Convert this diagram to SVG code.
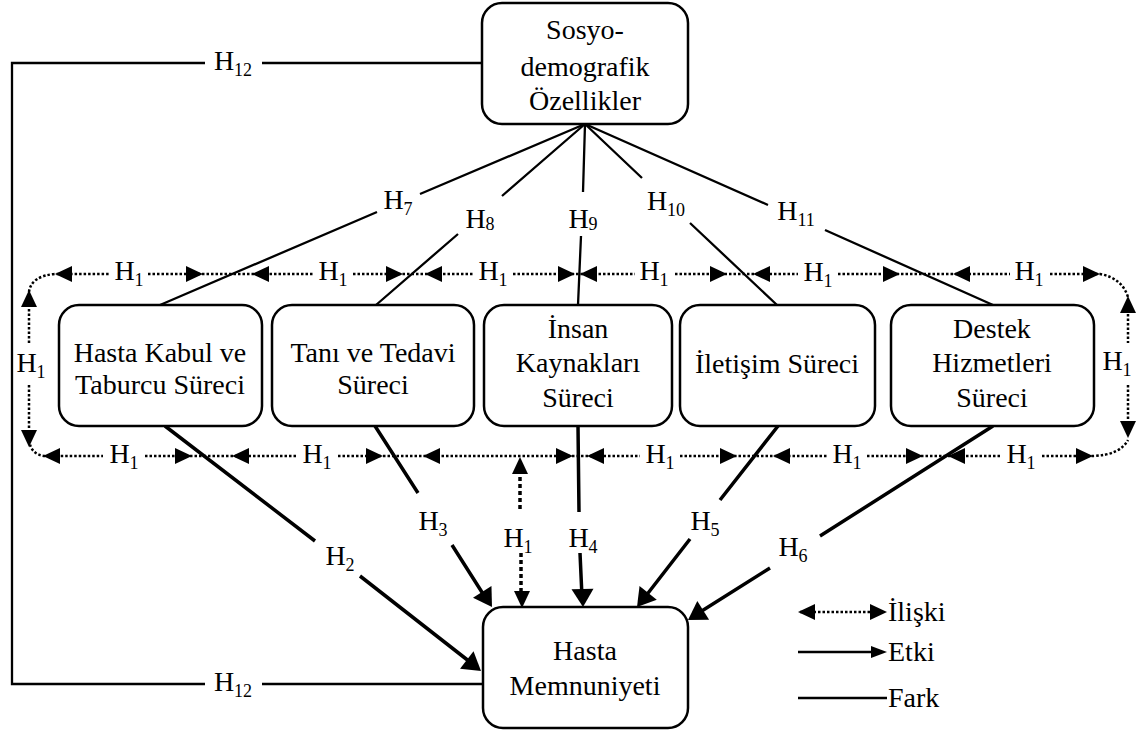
<svg xmlns="http://www.w3.org/2000/svg" xmlns:xlink="http://www.w3.org/1999/xlink" width="1144" height="733" viewBox="0 0 1144 733">
<style>
.box{fill:#fff;stroke:#000;stroke-width:2.5}
.t{font-family:"Liberation Serif","Times New Roman",serif;font-size:28px;fill:#000;text-anchor:middle}
.lg{font-family:"Liberation Serif","Times New Roman",serif;font-size:28px;fill:#000}
.h{font-family:"Liberation Serif","Times New Roman",serif;font-size:28px;fill:#000;text-anchor:middle}
.s{font-size:18px}
.thin{fill:none;stroke:#000;stroke-width:2.3}
.thick{fill:none;stroke:#000;stroke-width:3.5}
.dot{fill:none;stroke:#000;stroke-width:2.5;stroke-dasharray:2.5 2}
.dotb{fill:none;stroke:#000;stroke-width:3.5;stroke-dasharray:4 3}
</style>
<defs>
<path id="ad" d="M0,0 L-17,-8 L-17,8z"/>
<path id="at" d="M0,0 L-18,-11 L-18,11z"/>
<path id="al" d="M0,0 L-16,-6 L-16,6z"/>
</defs>

<g id="connectors">
<path class="thin" d="M482,63 H262 M205,63 H12 V684 H205 M262,684 H484"/>
<text class="h" x="233" y="70">H<tspan class="s" dy="6">12</tspan></text>
<text class="h" x="233" y="691">H<tspan class="s" dy="6">12</tspan></text>
<path class="thin" d="M585,124 L420,194 M377,212 L160,305"/>
<text class="h" x="398" y="209">H<tspan class="s" dy="6">7</tspan></text>
<path class="thin" d="M585,124 L502,196 M458,234 L376,305"/>
<text class="h" x="480" y="228">H<tspan class="s" dy="2">8</tspan></text>
<path class="thin" d="M585,124 L583,192 M581,236 L578,305"/>
<text class="h" x="583" y="228">H<tspan class="s" dy="2">9</tspan></text>
<path class="thin" d="M585,124 L642,178 M690,223 L777,305"/>
<text class="h" x="666" y="210">H<tspan class="s" dy="6">10</tspan></text>
<path class="thin" d="M585,124 L768,205 M825,230 L993,305"/>
<text class="h" x="796" y="220">H<tspan class="s" dy="6">11</tspan></text>

<path class="dot" d="M29,292 Q31,276 55,274 H110 M148,274 H313 M353,274 H473 M513,274 H635 M675,274 H798 M838,274 H1010 M1050,274 H1100 Q1122,278 1128,297"/>
<g>
<use xlink:href="#ad" transform="translate(55,274) rotate(180)"/>
<use xlink:href="#ad" transform="translate(203,274)"/>
<use xlink:href="#ad" transform="translate(252,274) rotate(180)"/>
<use xlink:href="#ad" transform="translate(403,274)"/>
<use xlink:href="#ad" transform="translate(425,274) rotate(180)"/>
<use xlink:href="#ad" transform="translate(575,274)"/>
<use xlink:href="#ad" transform="translate(580,274) rotate(180)"/>
<use xlink:href="#ad" transform="translate(727,274)"/>
<use xlink:href="#ad" transform="translate(753,274) rotate(180)"/>
<use xlink:href="#ad" transform="translate(900,274)"/>
<use xlink:href="#ad" transform="translate(953,274) rotate(180)"/>
<use xlink:href="#ad" transform="translate(1100,274)"/>
</g>
<text class="h" x="129" y="280">H<tspan class="s" dy="6">1</tspan></text>
<text class="h" x="333" y="280">H<tspan class="s" dy="6">1</tspan></text>
<text class="h" x="493" y="280">H<tspan class="s" dy="6">1</tspan></text>
<text class="h" x="654" y="280">H<tspan class="s" dy="6">1</tspan></text>
<text class="h" x="818" y="281">H<tspan class="s" dy="6">1</tspan></text>
<text class="h" x="1029" y="280">H<tspan class="s" dy="6">1</tspan></text>

<path class="dot" d="M29,440 Q31,455 45,456 H103 M145,456 H298 M338,456 H640 M680,456 H827 M867,456 H1002 M1042,456 H1093 Q1120,455 1128,440"/>
<g>
<use xlink:href="#ad" transform="translate(43,456) rotate(180)"/>
<use xlink:href="#ad" transform="translate(192,456)"/>
<use xlink:href="#ad" transform="translate(232,456) rotate(180)"/>
<use xlink:href="#ad" transform="translate(383,456)"/>
<use xlink:href="#ad" transform="translate(423,456) rotate(180)"/>
<use xlink:href="#ad" transform="translate(573,456)"/>
<use xlink:href="#ad" transform="translate(587,456) rotate(180)"/>
<use xlink:href="#ad" transform="translate(737,456)"/>
<use xlink:href="#ad" transform="translate(773,456) rotate(180)"/>
<use xlink:href="#ad" transform="translate(923,456)"/>
<use xlink:href="#ad" transform="translate(948,456) rotate(180)"/>
<use xlink:href="#ad" transform="translate(1093,456)"/>
</g>
<text class="h" x="124" y="463">H<tspan class="s" dy="6">1</tspan></text>
<text class="h" x="317" y="463">H<tspan class="s" dy="6">1</tspan></text>
<text class="h" x="660" y="463">H<tspan class="s" dy="6">1</tspan></text>
<text class="h" x="847" y="463">H<tspan class="s" dy="6">1</tspan></text>
<text class="h" x="1021" y="463">H<tspan class="s" dy="6">1</tspan></text>

<path class="dot" d="M29,300 V345 M29,385 V437"/>
<use xlink:href="#ad" transform="translate(29,290) rotate(-90)"/>
<use xlink:href="#ad" transform="translate(29,447) rotate(90)"/>
<text class="h" x="31" y="372">H<tspan class="s" dy="6">1</tspan></text>
<path class="dot" d="M1128,305 V343 M1128,385 V430"/>
<use xlink:href="#ad" transform="translate(1128,296) rotate(-90)"/>
<use xlink:href="#ad" transform="translate(1128,438) rotate(90)"/>
<text class="h" x="1117" y="370">H<tspan class="s" dy="6">1</tspan></text>

<path class="dotb" d="M520,470 V511 M521,553 V600"/>
<use xlink:href="#ad" transform="translate(520,457) rotate(-90)"/>
<use xlink:href="#ad" transform="translate(522,608) rotate(90)"/>
<text class="h" x="518" y="547">H<tspan class="s" dy="6">1</tspan></text>

<path class="thick" d="M165,426 L315,541 M360,576 L470,662"/>
<use xlink:href="#at" transform="translate(481,671) rotate(37.8)"/>
<text class="h" x="340" y="565">H<tspan class="s" dy="6">2</tspan></text>
<path class="thick" d="M375,426 L418,493 M452,545 L485,597"/>
<use xlink:href="#at" transform="translate(492,607) rotate(57.1)"/>
<text class="h" x="433" y="530">H<tspan class="s" dy="6">3</tspan></text>
<path class="thick" d="M578,426 L579,512 M580,553 L582,597"/>
<use xlink:href="#at" transform="translate(583,607) rotate(88.4)"/>
<text class="h" x="583" y="547">H<tspan class="s" dy="6">4</tspan></text>
<path class="thick" d="M778,426 L720,500 M690,539 L645,597"/>
<use xlink:href="#at" transform="translate(637,607) rotate(128.3)"/>
<text class="h" x="705" y="530">H<tspan class="s" dy="6">5</tspan></text>
<path class="thick" d="M993,426 L820,536 M770,568 L697,614"/>
<use xlink:href="#at" transform="translate(688,620) rotate(147.6)"/>
<text class="h" x="793" y="556">H<tspan class="s" dy="6">6</tspan></text>
</g>

<g id="n-sosyo">
<rect class="box" x="482" y="3" width="206" height="121" rx="20"/>
<text class="t" x="585" y="39">Sosyo-</text>
<text class="t" x="585" y="76">demografik</text>
<text class="t" x="585" y="110">Özellikler</text>
</g>
<g id="n-hasta-kabul">
<rect class="box" x="59" y="305" width="203" height="121" rx="20"/>
<text class="t" x="160" y="362">Hasta Kabul ve</text>
<text class="t" x="160" y="394">Taburcu Süreci</text>
</g>
<g id="n-tani">
<rect class="box" x="272" y="305" width="202" height="121" rx="20"/>
<text class="t" x="373" y="362">Tanı ve Tedavi</text>
<text class="t" x="373" y="394">Süreci</text>
</g>
<g id="n-insan">
<rect class="box" x="484" y="305" width="188" height="121" rx="20"/>
<text class="t" x="578" y="338">İnsan</text>
<text class="t" x="578" y="372">Kaynakları</text>
<text class="t" x="578" y="407">Süreci</text>
</g>
<g id="n-iletisim">
<rect class="box" x="680" y="305" width="195" height="121" rx="20"/>
<text class="t" x="777" y="373">İletişim Süreci</text>
</g>
<g id="n-destek">
<rect class="box" x="891" y="305" width="203" height="121" rx="20"/>
<text class="t" x="992" y="338">Destek</text>
<text class="t" x="992" y="372">Hizmetleri</text>
<text class="t" x="992" y="407">Süreci</text>
</g>
<g id="n-memnuniyet">
<rect class="box" x="483" y="607" width="205" height="121" rx="20"/>
<text class="t" x="585" y="660">Hasta</text>
<text class="t" x="585" y="695">Memnuniyeti</text>
</g>

<g id="legend">
<path class="dot" d="M800,612 H870"/>
<use xlink:href="#ad" transform="translate(798,612) rotate(180)"/>
<use xlink:href="#ad" transform="translate(887,612)"/>
<text class="lg" x="888" y="621">İlişki</text>
<path class="thin" d="M798,652 H875"/>
<use xlink:href="#al" transform="translate(887,652)"/>
<text class="lg" x="888" y="661">Etki</text>
<path class="thin" d="M798,698 H887"/>
<text class="lg" x="888" y="707">Fark</text>
</g>
</svg>
